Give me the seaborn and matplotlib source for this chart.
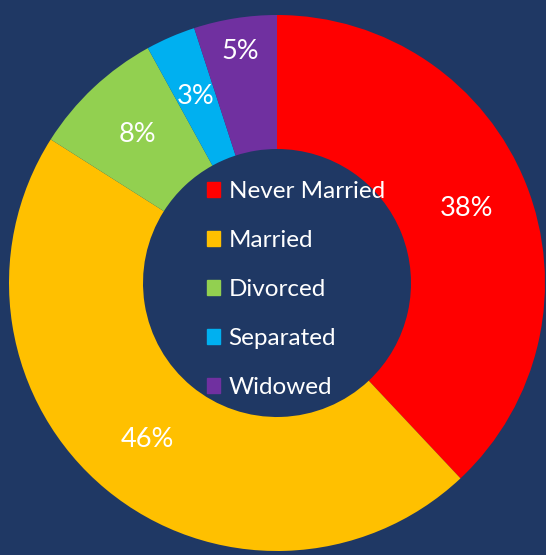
import matplotlib
matplotlib.use("Agg")
import matplotlib.pyplot as plt
import matplotlib.patches as mpatches
import seaborn as sns

# ---------------------------------------------------
# datos
# ---------------------------------------------------
categories = ["Never Married", "Married", "Divorced", "Separated", "Widowed"]
shares = [38, 46, 8, 3, 5]
colors = ["#FF0000", "#FFC000", "#92D050", "#00B0F0", "#7030A0"]
BG = "#1F3864"
# ---------------------------------------------------

sns.set_theme(style="white")
plt.rcParams["font.family"] = ["Lato", "DejaVu Sans"]

palette = sns.color_palette(colors)

fig = plt.figure(figsize=(5.46, 5.55), dpi=100, facecolor=BG)
# centro (277, 283) px, radio ~268 px
ax = fig.add_axes([(277 - 268) / 546, (555 - 283 - 268) / 555, 536 / 546, 536 / 555])
ax.set_facecolor(BG)

wedges, texts, autotexts = ax.pie(
    shares,
    colors=palette,
    startangle=90,
    counterclock=False,
    radius=1.0,
    autopct="%d%%",
    pctdistance=0.76,
    wedgeprops=dict(width=0.5, edgecolor="none"),
    textprops=dict(color="white", fontsize=19.5),
)

# la etiqueta de Widowed va un poco más afuera
x, y = autotexts[4].get_position()
autotexts[4].set_position((x * 1.15, y * 1.15))

ax.set_xlim(-1, 1)
ax.set_ylim(-1, 1)
ax.set_aspect("equal")
ax.axis("off")

handles = [mpatches.Patch(color=c, label=l) for c, l in zip(palette, categories)]
leg = ax.legend(
    handles=handles,
    loc="center",
    bbox_to_anchor=(0.535, 0.488),
    frameon=False,
    fontsize=17.5,
    labelcolor="white",
    handlelength=0.55,
    handleheight=0.55,
    handletextpad=0.35,
    labelspacing=1.15,
)

fig.savefig("out.png", dpi=100, facecolor=BG)
